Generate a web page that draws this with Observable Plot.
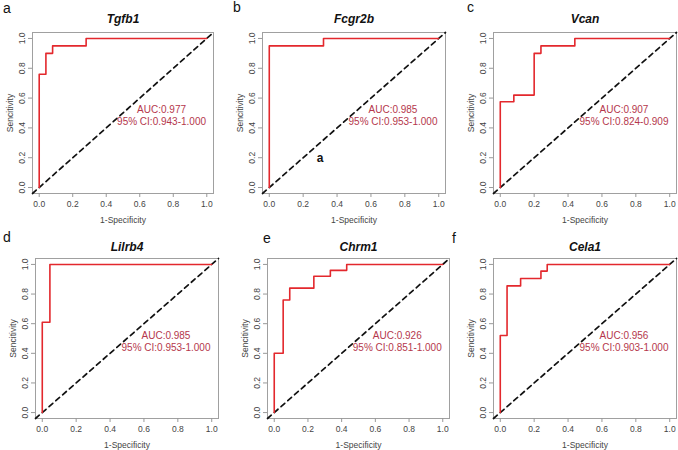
<!DOCTYPE html>
<html><head><meta charset="utf-8">
<script src="https://cdn.jsdelivr.net/npm/d3@7"></script>
<script src="https://cdn.jsdelivr.net/npm/@observablehq/plot@0.6"></script>
<style>
body{margin:0;background:#fff;}
#wrap{position:relative;width:678px;height:450px;overflow:hidden;font-family:"Liberation Sans",Arial,sans-serif;background:#fff;}
.panel{position:absolute;}
.letter{position:absolute;font-size:14px;line-height:14px;color:#111;}
</style></head><body><div id="wrap"></div>
<script>
// ---- data ----
const letters = ["a", "b", "c", "d", "e", "f"];
const genes = ["Tgfb1", "Fcgr2b", "Vcan", "Lilrb4", "Chrm1", "Cela1"];
const aucs = ["0.977", "0.985", "0.907", "0.985", "0.926", "0.956"];
const cis = ["0.943-1.000", "0.953-1.000", "0.824-0.909", "0.953-1.000", "0.851-1.000", "0.903-1.000"];

const fprTgfb1 = [0, 0, 0.04, 0.08, 0.28, 1];
const tprTgfb1 = [0, 0.76, 0.90, 0.95, 1, 1];
const fprFcgr2b = [0, 0, 0.32, 1];
const tprFcgr2b = [0, 0.95, 1, 1];
const fprVcan = [0, 0, 0.08, 0.20, 0.24, 0.44, 1];
const tprVcan = [0, 0.575, 0.62, 0.90, 0.95, 1, 1];
const fprLilrb4 = [0, 0, 0.045, 1];
const tprLilrb4 = [0, 0.61, 1, 1];
const fprChrm1 = [0, 0, 0.053, 0.092, 0.235, 0.333, 0.43, 1];
const tprChrm1 = [0, 0.40, 0.76, 0.84, 0.92, 0.96, 1, 1];
const fprCela1 = [0, 0, 0.04, 0.12, 0.24, 0.277, 1];
const tprCela1 = [0, 0.52, 0.855, 0.905, 0.955, 1, 1];

const fprs = [fprTgfb1, fprFcgr2b, fprVcan, fprLilrb4, fprChrm1, fprCela1];
const tprs = [tprTgfb1, tprFcgr2b, tprVcan, tprLilrb4, tprChrm1, tprCela1];

const ticks = [0, 0.2, 0.4, 0.6, 0.8, 1.0];
const xLabel = "1-Specificity";
const yLabel = "Sencitivity";
const strayText = "a"; // stray letter inside panel b
const strayPanel = 1;
const strayX = 0.30, strayY = 0.20;

// ---- layout ----
const dom = [-0.04, 1.04];
const boxes = [
  {l: 32, r: 213, t: 32, b: 193},
  {l: 262, r: 445, t: 32, b: 193},
  {l: 493, r: 676, t: 32, b: 193},
  {l: 35, r: 218, t: 258, b: 418},
  {l: 267, r: 449, t: 258, b: 418},
  {l: 493, r: 676, t: 258, b: 418}
];
const letterPos = [[3, 1], [233, 0], [467, 0], [3, 230], [263, 231], [452, 231]];
const mL = 34, mR = 2, mT = 34, mB = 32;
const aucX = 0.73, aucY = 0.52, ciY = 0.44;

const wrap = document.getElementById("wrap");

boxes.forEach((bx, i) => {
  const w = bx.r - bx.l, h = bx.b - bx.t;
  const roc = fprs[i].map((f, j) => ({fpr: f, tpr: tprs[i][j]}));
  const diag = dom.map(v => ({x: v, y: v}));
  const marks = [
    Plot.frame({stroke: "#a0a0a0"}),
    Plot.axisX({ticks, tickFormat: d3.format(".1f"), tickSize: 4, tickPadding: 3, fontSize: 8.5, stroke: "#999", fill: "#444",
      label: xLabel, labelAnchor: "center", labelArrow: "none", labelOffset: 29}),
    Plot.axisY({ticks, tickFormat: d3.format(".1f"), tickSize: 4, tickPadding: 4, fontSize: 8.5, stroke: "#999", fill: "#444",
      tickRotate: -90, label: yLabel, labelAnchor: "center", labelArrow: "none", labelOffset: 26}),
    Plot.line(diag, {x: "x", y: "y", stroke: "#111", strokeWidth: 1.7, strokeDasharray: "5,4"}),
    Plot.line(roc, {x: "fpr", y: "tpr", curve: "step-after", stroke: "#e3282d", strokeWidth: 1.6}),
    Plot.text(["AUC:" + aucs[i]], {x: () => aucX, y: () => aucY, fill: "#b5374c", fontSize: 10}),
    Plot.text(["95% CI:" + cis[i]], {x: () => aucX, y: () => ciY, fill: "#b5374c", fontSize: 10}),
    Plot.text([genes[i]], {frameAnchor: "top", dy: i < 3 ? -18 : -16, fontWeight: "bold", fontStyle: "italic", fontSize: 12, fill: "#111"})
  ];
  if (i === strayPanel) {
    marks.push(Plot.text([strayText], {x: () => strayX, y: () => strayY, fontWeight: "bold", fontSize: 12, fill: "#111"}));
  }
  const svg = Plot.plot({
    width: mL + w + mR, height: mT + h + mB,
    marginLeft: mL, marginRight: mR, marginTop: mT, marginBottom: mB,
    x: {domain: dom}, y: {domain: dom},
    style: {fontFamily: "'Liberation Sans', Arial, sans-serif", background: "transparent", overflow: "visible"},
    marks
  });
  const div = document.createElement("div");
  div.className = "panel";
  div.style.left = (bx.l - mL) + "px";
  div.style.top = (bx.t - mT) + "px";
  div.appendChild(svg);
  wrap.appendChild(div);

  const lt = document.createElement("div");
  lt.className = "letter";
  lt.textContent = letters[i];
  lt.style.left = letterPos[i][0] + "px";
  lt.style.top = letterPos[i][1] + "px";
  wrap.appendChild(lt);
});
</script>
</body></html>
